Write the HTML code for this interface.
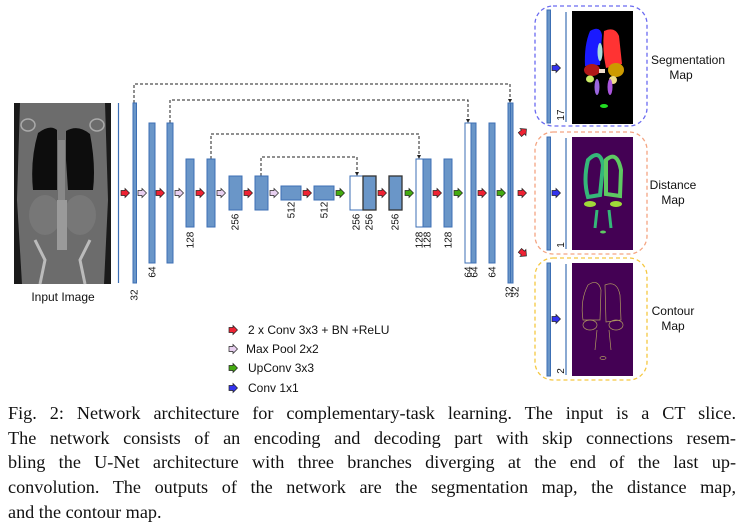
<!DOCTYPE html>
<html><head><meta charset="utf-8"><style>
body{margin:0;background:#fff;width:744px;height:532px;overflow:hidden;position:relative}
svg{position:absolute;left:0;top:0}
.cap{position:absolute;left:8px;width:728px;font-family:"Liberation Serif",serif;font-size:18.2px;color:#111;line-height:24.7px}
.cap div{text-align:justify;text-align-last:justify;white-space:nowrap;height:24.7px}
.cap div.last{text-align-last:left}
</style></head><body>
<svg width="744" height="400" font-family="Liberation Sans, sans-serif">
<g>
<rect x="14" y="103" width="97" height="181" fill="#1a1a1a"/>
<path d="M20 103 L105 103 L108 200 L104 284 L22 284 L17 200 Z" fill="#6c6c6c"/>
<path d="M38 133 Q50 124 57 130 L57 190 L33 190 Q30 160 38 133 Z" fill="#0d0d0d"/>
<path d="M66 131 Q78 124 90 134 Q96 165 93 190 L68 190 L66 160 Z" fill="#0d0d0d"/>
<ellipse cx="45" cy="215" rx="16" ry="20" fill="#777"/>
<ellipse cx="80" cy="215" rx="16" ry="20" fill="#777"/>
<rect x="58" y="140" width="7" height="60" fill="#888"/>
<rect x="57" y="200" width="10" height="50" fill="#9a9a9a"/>
<ellipse cx="28" cy="125" rx="7" ry="6" fill="none" stroke="#aaa" stroke-width="1.5"/>
<ellipse cx="97" cy="125" rx="7" ry="6" fill="none" stroke="#aaa" stroke-width="1.5"/>
<path d="M35 240 L45 260 L40 284 M90 240 L80 260 L85 284" stroke="#bbb" stroke-width="3" fill="none"/>
</g>
<text x="63" y="301" font-size="12" text-anchor="middle" fill="#111">Input Image</text>
<line x1="118.5" y1="103" x2="118.5" y2="283" stroke="#3c6fb4" stroke-width="1.2"/>
<g fill="none" stroke="#222" stroke-width="1" stroke-dasharray="3,2">
<path d="M134 103 V84 H510 V100"/>
<path d="M170 123 V100 H468 V120"/>
<path d="M211 159 V134 H419 V156"/>
<path d="M261 176 V157 H357 V173"/>
</g>
<g fill="#222"><path d="M508 99 L512 99 L510 103Z"/><path d="M466 119 L470 119 L468 123Z"/><path d="M417 155 L421 155 L419 159Z"/><path d="M355 172 L359 172 L357 176Z"/></g>
<g id="bars" stroke="#3c6fb4" stroke-width="1" fill="#6a96c8"></g>
<g id="arrows"></g>
<g id="labels" font-size="10" fill="#111"></g>
<rect x="535" y="6" width="112" height="120" rx="18" fill="none" stroke="#6b6bf0" stroke-width="1.3" stroke-dasharray="4,3"/>
<rect x="535" y="132" width="112" height="122" rx="18" fill="none" stroke="#f4a582" stroke-width="1.3" stroke-dasharray="4,3"/>
<rect x="535" y="258" width="112" height="122" rx="18" fill="none" stroke="#f5c842" stroke-width="1.3" stroke-dasharray="4,3"/>
<g fill="#6a96c8" stroke="#3c6fb4">
<rect x="547" y="10" width="3.5" height="113"/><rect x="547" y="137" width="3.5" height="113"/><rect x="547" y="263" width="3.5" height="113"/>
</g>
<g stroke="#3c6fb4" stroke-width="1.2"><line x1="566" y1="12" x2="566" y2="122"/><line x1="566" y1="138" x2="566" y2="249"/><line x1="566" y1="264" x2="566" y2="375"/></g>
<g>
<rect x="572" y="11" width="61" height="113" fill="#000"/>
<path d="M590 31 Q600 25 602 35 L600 65 L585 66 Q584 45 590 31Z" fill="#1a1aff"/>
<path d="M604 31 Q615 26 619 36 L622 64 L606 68 Q602 50 604 31Z" fill="#ff3333"/>
<ellipse cx="592" cy="70" rx="8" ry="6" fill="#b01818"/>
<ellipse cx="616" cy="70" rx="8" ry="7" fill="#cc9a00"/>
<ellipse cx="600" cy="52" rx="2.5" ry="9" fill="#aadddd"/>
<ellipse cx="590" cy="79" rx="4" ry="3.5" fill="#ccee66"/>
<ellipse cx="613" cy="80" rx="4" ry="4" fill="#eedd88"/>
<rect x="599" y="69" width="6" height="4" fill="#eeddcc"/>
<ellipse cx="597" cy="87" rx="2.5" ry="8" fill="#9966dd"/>
<ellipse cx="610" cy="87" rx="2.5" ry="8" fill="#aa55dd"/>
<ellipse cx="604" cy="106" rx="4" ry="2" fill="#22dd22"/>
</g>
<g>
<rect x="572" y="137" width="61" height="113" fill="#440154"/>
<path d="M588 160 Q600 148 603 165 L600 195 L588 197 Q583 180 588 160Z" fill="none" stroke="#35b779" stroke-width="4"/>
<path d="M606 160 Q617 150 621 170 L620 196 L606 194Z" fill="none" stroke="#5ec962" stroke-width="4"/>
<ellipse cx="590" cy="204" rx="6" ry="3" fill="#a0da39"/>
<ellipse cx="616" cy="204" rx="6" ry="3" fill="#a0da39"/>
<path d="M597 210 L595 228 M609 210 L611 228" stroke="#35b779" stroke-width="3"/>
<ellipse cx="603" cy="232" rx="3" ry="1.5" fill="#5ec962"/>
</g>
<g>
<rect x="572" y="263" width="61" height="113" fill="#440154"/>
<g fill="none" stroke="#b09a60" stroke-width="0.7">
<path d="M588 285 Q598 278 601 290 L600 320 L583 320 Q580 300 588 285Z"/>
<path d="M605 285 Q617 280 620 295 L621 320 L606 322Z"/>
<ellipse cx="590" cy="325" rx="7" ry="5"/><ellipse cx="616" cy="325" rx="7" ry="5"/>
<path d="M597 330 L595 350 M609 330 L611 350"/>
<ellipse cx="603" cy="358" rx="3" ry="1.5"/>
</g></g>
<g font-size="10" fill="#111">
<text transform="translate(564,115) rotate(-90)" text-anchor="middle">17</text>
<text transform="translate(564,245) rotate(-90)" text-anchor="middle">1</text>
<text transform="translate(564,371) rotate(-90)" text-anchor="middle">2</text>
</g>
<g font-size="12" fill="#111" text-anchor="middle">
<text x="688" y="64">Segmentation</text><text x="681" y="79">Map</text>
<text x="673" y="189">Distance</text><text x="673" y="204">Map</text>
<text x="673" y="315">Contour</text><text x="673" y="330">Map</text>
</g>
<g id="legend" font-size="12" fill="#111">
<text x="248" y="334">2 x Conv 3x3 + BN +ReLU</text>
<text x="246" y="353">Max Pool 2x2</text>
<text x="248" y="372">UpConv 3x3</text>
<text x="248" y="392">Conv 1x1</text>
</g>
</svg>
<div class="cap" style="top:401px">
<div>Fig. 2: Network architecture for complementary-task learning. The input is a CT slice.</div>
<div>The network consists of an encoding and decoding part with skip connections resem-</div>
<div>bling the U-Net architecture with three branches diverging at the end of the last up-</div>
<div>convolution. The outputs of the network are the segmentation map, the distance map,</div>
<div class="last">and the contour map.</div>
</div>
<script>
const NS='http://www.w3.org/2000/svg';
const bars=[[133,103,3.5,180,1],[149,123,6,140,1],[167,123,6,140,1],[186,159,8,68,1],[207,159,8,68,1],[229,176,13,34,1],[255,176,13,34,1],[281,186,20,14,1],[314,186,20,14,1],[350,176,13,34,0],[363,176,13,34,2],[389,176,13,34,2],[416,159,7,68,0],[423,159,8,68,1],[444,159,8,68,1],[465,123,6,140,0],[471,123,5,140,1],[489,123,6,140,1],[508,103,2.5,180,1],[510.5,103,2.5,180,1]];
const bg=document.getElementById('bars');
bars.forEach(b=>{const r=document.createElementNS(NS,'rect');


r.setAttribute('x',b[0]);r.setAttribute('y',b[1]);r.setAttribute('width',b[2]);r.setAttribute('height',b[3]);
if(b[4]===0){r.setAttribute('fill','#fff');}
if(b[4]===2){r.setAttribute('stroke','#333');r.setAttribute('stroke-width','1.3');}
bg.appendChild(r);});
const labels=[['32',134,295],['64',152,272],['128',190,240],['256',235,222],['512',291,210],['512',324,210],['256',356,222],['256',369,222],['256',395,222],['128',419,240],['128',427,240],['128',448,240],['64',468,272],['64',474,272],['64',492,272],['32',509,292],['32',515,292]];
const lg=document.getElementById('labels');
labels.forEach(l=>{const t=document.createElementNS(NS,'text');


t.setAttribute('transform',`translate(${l[1]+3.5},${l[2]}) rotate(-90)`);t.setAttribute('text-anchor','middle');t.textContent=l[0];lg.appendChild(t);});
const R='#ee2233',P='#e8d0f0',G='#44aa11',B='#3333ee';
const arrows=[[125,193,R,0],[142,193,P,0],[160,193,R,0],[179,193,P,0],[200,193,R,0],[221,193,P,0],[248,193,R,0],[274,193,P,0],[307,193,R,0],[340,193,G,0],[382,193,R,0],[409,193,G,0],[437,193,R,0],[458,193,G,0],[482,193,R,0],[501,193,G,0],[522,193,R,0],[523,132,R,-40],[523,253,R,40],[556,68,B,0],[556,193,B,0],[556,319,B,0],[233,330,R,0],[233,349,P,0],[233,368,G,0],[233,388,B,0]];
const ag=document.getElementById('arrows');
arrows.forEach(a=>{const p=document.createElementNS(NS,'path');


p.setAttribute('d','M-4,-2.5 L0,-2.5 L0,-4.5 L4.5,0 L0,4.5 L0,2.5 L-4,2.5 Z');
p.setAttribute('transform',`translate(${a[0]},${a[1]}) rotate(${a[3]})`);
p.setAttribute('fill',a[2]);p.setAttribute('stroke','#222');p.setAttribute('stroke-width','0.7');ag.appendChild(p);});
</script>
</body></html>
